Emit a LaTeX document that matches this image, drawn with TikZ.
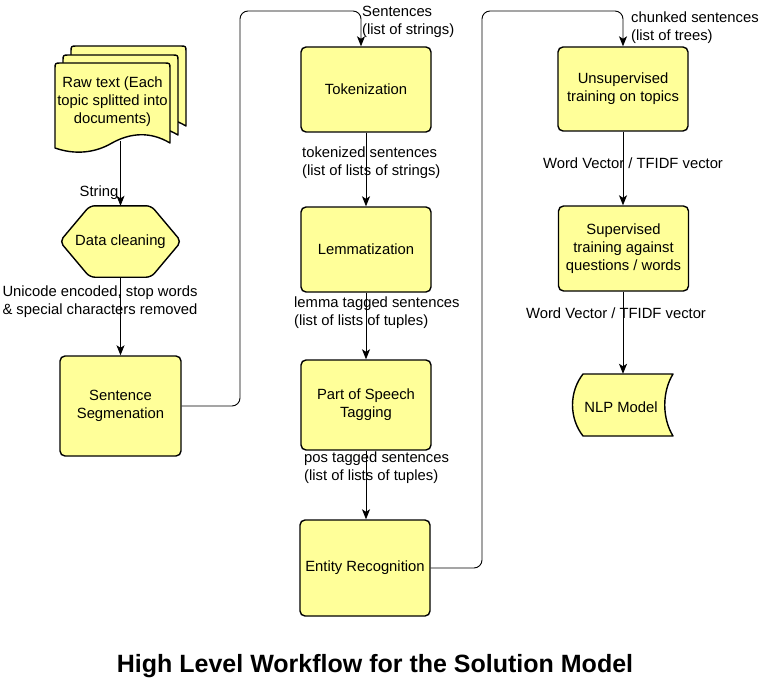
\documentclass[tikz,border=0pt]{standalone}
\usepackage{fontspec}
\setmainfont{Liberation Sans}
\usetikzlibrary{arrows.meta,backgrounds,calc}
\definecolor{yel}{HTML}{FFFF99}
\begin{document}
\begin{tikzpicture}[x=1pt,y=-1pt,
  every node/.style={font=\fontsize{14.8}{18}\selectfont, text=black, inner sep=0pt},
  shp/.style={draw=black, fill=yel, line width=1.4pt},
  stepbox/.style={shp, rectangle, rounded corners=5pt, minimum width=130pt, minimum height=85pt, align=center},
  lbl/.style={align=left, anchor=west},
  clbl/.style={align=center},
  arr/.style={draw=black, line width=0.9pt, -{Stealth[length=10pt,width=8pt,inset=2.5pt]}},
  docsheet/.style={shp, line join=round}
]
\useasboundingbox (0,0) rectangle (771,682);

% --- Raw text: stack of documents
\newcommand{\docpath}[2]{%
  \draw[docsheet] (#1+0,#2+85) -- (#1+0,#2+6) .. controls (#1+0,#2+0) .. (#1+6,#2+0) -- (#1+109,#2+0)
    .. controls (#1+115,#2+0) .. (#1+115,#2+6) -- (#1+115,#2+80)
    .. controls (#1+95,#2+68) and (#1+75,#2+70) .. (#1+57,#2+80)
    .. controls (#1+40,#2+90) and (#1+20,#2+92) .. (#1+0,#2+85) -- cycle;}
\docpath{71}{46}
\docpath{63}{55}
\docpath{55}{63}
\node[align=center] (raw) at (112.5,102) {Raw text (Each\\topic splitted into\\documents)};
\coordinate (rawbot) at (120.5,141);

% --- Data cleaning hexagon
\node[minimum width=121pt, minimum height=71pt] (clean) at (120.5,241.5) {Data cleaning};
\begin{scope}[on background layer]
\draw[shp, rounded corners=5pt] (clean.west) -- ([xshift=30pt]clean.north west) -- ([xshift=-30pt]clean.north east)
  -- (clean.east) -- ([xshift=-30pt]clean.south east) -- ([xshift=30pt]clean.south west) -- cycle;
\end{scope}

% --- Boxes
\node[stepbox, minimum width=121pt, minimum height=100pt] (seg) at (120.5,406) {Sentence\\Segmenation};
\node[stepbox] (tok) at (366,89.5) {Tokenization};
\node[stepbox] (lem) at (366,249.5) {Lemmatization};
\node[stepbox, minimum height=90pt] (pos) at (366,405) {Part of Speech\\Tagging};
\node[stepbox, minimum height=96pt] (ent) at (365,568) {Entity Recognition};
\node[stepbox, minimum height=84pt] (uns) at (623,89) {Unsupervised\\training on topics};
\node[stepbox] (sup) at (623.5,248.5) {Supervised\\training against\\questions / words};

% --- NLP Model (stored data)
\node[minimum width=100pt, minimum height=62pt] (nlp) at (623,405) {};
\begin{scope}[on background layer]
\draw[shp, line join=round] (583,374) -- (673,374) .. controls (662,392) and (662,418) .. (673,436)
  -- (583,436) .. controls (569,418) and (569,392) .. (583,374) -- cycle;
\end{scope}
\node at (621,407) {NLP Model};

% --- Connectors
\coordinate (c1) at (240,11);
\coordinate (c2) at (482,11);
\draw[arr] (rawbot) -- (clean.north);
\draw[arr] (clean.south) -- (seg.north);
\draw[arr, rounded corners=8pt] (seg.east) -| (c1) -| ([xshift=-5pt]tok.north);
\draw[arr] (tok.south) -- (lem.north);
\draw[arr] (lem.south) -- (pos.north);
\draw[arr] (pos.south) -- (ent.north -| pos.south);
\draw[arr, rounded corners=8pt] (ent.east) -| (c2) -| (uns.north);
\draw[arr] (uns.south) -- (sup.north -| uns.south);
\draw[arr] (sup.south -| nlp.north) -- (nlp.north);

% --- Labels
\node[clbl] (l1) at (99,193) {String};
\node[clbl] (l2) at (100,302) {Unicode encoded, stop words\\\& special characters removed};
\node[lbl] (l3) at (362,21.5) {Sentences\\(list of strings)};
\node[lbl] (l4) at (302,162.5) {tokenized sentences\\(list of lists of strings)};
\node[lbl] (l5) at (294,312.5) {lemma tagged sentences\\(list of lists of tuples)};
\node[lbl] (l6) at (304,467.5) {pos tagged sentences\\(list of lists of tuples)};
\node[lbl] (l7) at (631,27.5) {chunked sentences\\(list of trees)};
\node[clbl] (l8) at (633,163) {Word Vector / TFIDF vector};
\node[clbl] (l9) at (616,313) {Word Vector / TFIDF vector};

% --- Title
\node[font=\fontsize{25}{30}\selectfont\bfseries] (title) at (375,666) {High Level Workflow for the Solution Model};
\end{tikzpicture}
\end{document}
